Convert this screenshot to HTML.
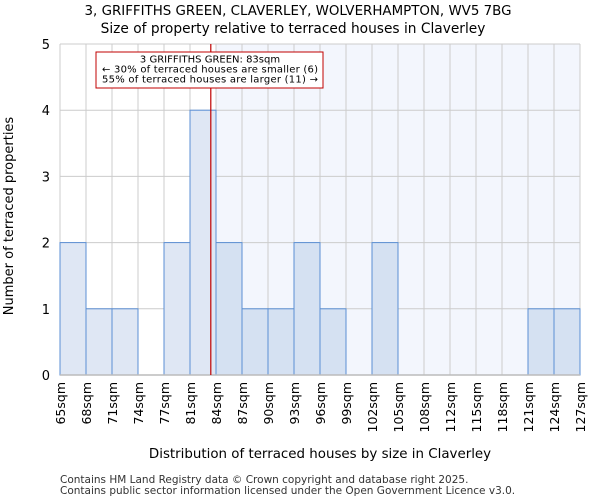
<!DOCTYPE html>
<html><head><meta charset="utf-8"><style>
body{margin:0;background:#fff;font-family:"DejaVu Sans","Liberation Sans",sans-serif;}
</style></head><body>
<svg id="chart" width="600" height="500" xmlns="http://www.w3.org/2000/svg" font-family="DejaVu Sans, Liberation Sans, sans-serif">
<text x="298" y="15" text-anchor="middle" font-size="13.4">3, GRIFFITHS GREEN, CLAVERLEY, WOLVERHAMPTON, WV5 7BG</text>
<text x="293" y="33" text-anchor="middle" font-size="13.75">Size of property relative to terraced houses in Claverley</text>
<g id="plot"></g>
<text x="320" y="458" text-anchor="middle" font-size="13.4">Distribution of terraced houses by size in Claverley</text>
<text transform="translate(13,216) rotate(-90)" text-anchor="middle" font-size="13">Number of terraced properties</text>
<text x="60" y="483" font-size="10.5" fill="#333">Contains HM Land Registry data © Crown copyright and database right 2025.</text>
<text x="60" y="494" font-size="10.5" fill="#333">Contains public sector information licensed under the Open Government Licence v3.0.</text>
</svg>
<script>
const edgeLabels=["65sqm","68sqm","71sqm","74sqm","77sqm","81sqm","84sqm","87sqm","90sqm","93sqm","96sqm","99sqm","102sqm","105sqm","108sqm","112sqm","115sqm","118sqm","121sqm","124sqm","127sqm"];
const counts=[2,1,1,0,2,4,2,1,1,2,1,0,2,0,0,0,0,0,1,1];
const yTicks=[0,1,2,3,4,5];
const markerPos=5.8; // in bin units
const highlightStart=6;
const NS="http://www.w3.org/2000/svg";
const L=60,R=580,T=44,B=375,yMax=5;
const n=counts.length;
const x=i=>L+(R-L)*i/n;
const y=v=>B-(B-T)*v/yMax;
const g=document.getElementById('plot');
function mk(t,a){const e=document.createElementNS(NS,t);for(const k in a)e.setAttribute(k,a[k]);g.appendChild(e);return e;}
let e=mk('rect',{x:x(highlightStart),y:T,width:R-x(highlightStart),height:B-T,fill:'#f3f6fd'});


for(let i=0;i<=n;i++){e=mk('line',{x1:x(i),x2:x(i),y1:T,y2:B,stroke:'#cccccc','stroke-width':1});

}
yTicks.forEach(v=>{e=mk('line',{x1:L,x2:R,y1:y(v),y2:y(v),stroke:'#cccccc','stroke-width':1});


const t=mk('text',{x:L-10,y:y(v)+5,'text-anchor':'end','font-size':13});t.textContent=v;

});
counts.forEach((c,i)=>{if(!c)return;e=mk('rect',{x:x(i),y:y(c),width:x(i+1)-x(i),height:y(0)-y(c),fill:i>=highlightStart?'#d5e1f2':'#dfe7f4',stroke:'#5b8fd4','stroke-width':1});

});
e=mk('line',{x1:L,x2:R,y1:B,y2:B,stroke:'#bbbbbb','stroke-width':1.5});


edgeLabels.forEach((s,i)=>{const t=mk('text',{transform:`translate(${x(i)+5},382) rotate(-90)`,'text-anchor':'end','font-size':12.5});t.textContent=s;

});
e=mk('line',{x1:x(markerPos),x2:x(markerPos),y1:T,y2:B,stroke:'#c00000','stroke-width':1.2});


e=mk('rect',{x:96,y:52,width:227,height:36,fill:'#fff',stroke:'#c00000','stroke-width':1});


["3 GRIFFITHS GREEN: 83sqm","← 30% of terraced houses are smaller (6)","55% of terraced houses are larger (11) →"].forEach((s,k)=>{const t=mk('text',{x:210,y:62.5+k*10,'text-anchor':'middle','font-size':10,textLength:k?216:0});if(!k)t.removeAttribute('textLength');t.textContent=s;

});
</script>
</body></html>
